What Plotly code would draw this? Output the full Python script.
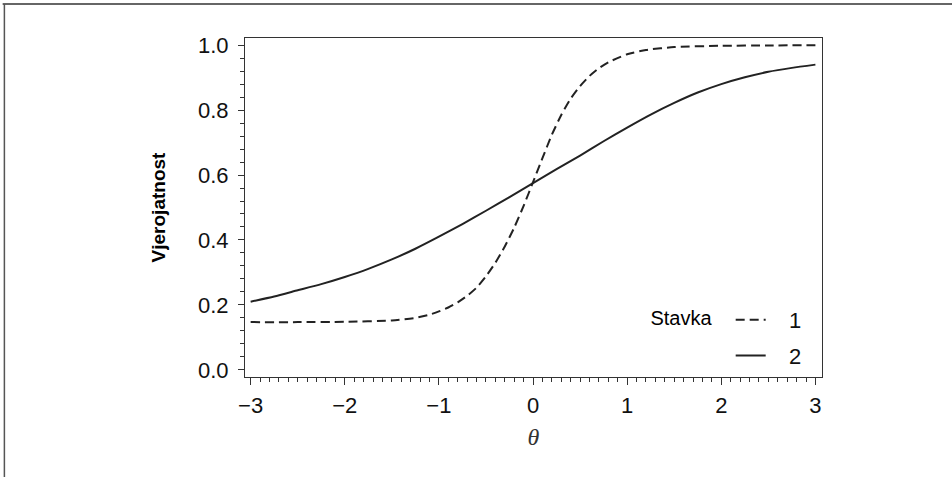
import plotly.graph_objects as go

# Data
theta_1 = [-3.0, -2.5, -2.0, -1.5, -1.25, -1.1, -1.0, -0.9, -0.8, -0.7, -0.6, -0.5, -0.4,
           -0.3, -0.2, -0.1, 0.0, 0.1, 0.2, 0.3, 0.4, 0.5, 0.6, 0.7, 0.8, 1.0, 1.2,
           1.5, 2.0, 2.5, 3.0]
p_item1 = [0.147, 0.147, 0.148, 0.152, 0.160, 0.170, 0.180, 0.192, 0.208, 0.228, 0.253, 0.288, 0.330,
           0.380, 0.438, 0.505, 0.578, 0.652, 0.724, 0.785, 0.835, 0.874, 0.905, 0.929, 0.947, 0.972, 0.985,
           0.994, 0.998, 0.999, 1.000]

theta_2 = [-3.0, -2.75, -2.5, -2.25, -2.0, -1.75, -1.5, -1.25, -1.0, -0.75, -0.5, -0.25,
           0.0, 0.25, 0.5, 0.75, 1.0, 1.25, 1.5, 1.75, 2.0, 2.25, 2.5, 2.75, 3.0]
p_item2 = [0.210, 0.226, 0.245, 0.264, 0.286, 0.311, 0.340, 0.373, 0.410, 0.449, 0.490, 0.532,
           0.575, 0.618, 0.660, 0.704, 0.746, 0.786, 0.822, 0.854, 0.880, 0.901, 0.918, 0.930, 0.940]

series_names = ["1", "2"]
legend_title = "Stavka"
x_ticks = [-3, -2, -1, 0, 1, 2, 3]
x_tick_labels = ["\u22123", "\u22122", "\u22121", "0", "1", "2", "3"]
y_ticks = [0.0, 0.2, 0.4, 0.6, 0.8, 1.0]
y_tick_labels = ["0.0", "0.2", "0.4", "0.6", "0.8", "1.0"]

FONT = "Liberation Sans, Arial, sans-serif"
NB = "\u00a0"

fig = go.Figure()
fig.add_trace(go.Scatter(x=theta_1, y=p_item1, mode="lines", name=NB * 3 + series_names[0],
                         legendgroup="a",
                         line=dict(color="#222", width=2, dash="9px,5px", shape="spline", smoothing=0.6)))
fig.add_trace(go.Scatter(x=theta_2, y=p_item2, mode="lines", name=NB * 3 + series_names[1],
                         legendgroup="b",
                         line=dict(color="#222", width=2, shape="spline", smoothing=0.6)))

axis_common = dict(showline=True, linecolor="#333", linewidth=1, mirror=True,
                   ticks="outside", tickcolor="#333", showgrid=False, zeroline=False,
                   tickfont=dict(family=FONT, size=22, color="#111"))

fig.update_xaxes(range=[-3.06, 3.07], tickvals=x_ticks, ticktext=x_tick_labels,
                 ticklen=7, tickwidth=1, ticklabelstandoff=2,
                 minor=dict(dtick=0.1, ticks="outside", ticklen=4, tickcolor="#333", showgrid=False),
                 title=dict(text="<i>\u03b8</i>", font=dict(family="Liberation Serif, serif", size=24, color="#333"),
                            standoff=10),
                 **axis_common)
fig.update_yaxes(range=[-0.022, 1.022], tickvals=y_ticks, ticktext=y_tick_labels,
                 ticklen=6, tickwidth=1, ticklabelstandoff=5,
                 minor=dict(dtick=0.04, tick0=0, ticks="outside", ticklen=4, tickcolor="#333", showgrid=False),
                 title=dict(text="<b>Vjerojatnost</b>", font=dict(family=FONT, size=19, color="#000"),
                            standoff=27),
                 **axis_common)

fig.update_layout(
    width=952, height=477,
    margin=dict(l=245, r=130, t=38, b=100),
    paper_bgcolor="white", plot_bgcolor="white",
    showlegend=True,
    legend=dict(title=dict(text=legend_title + NB * 2, side="left",
                           font=dict(family=FONT, size=20, color="#000")),
                font=dict(family=FONT, size=22, color="#111"),
                x=0.973, xanchor="right", y=0.0, yanchor="bottom",
                bgcolor="rgba(0,0,0,0)", tracegroupgap=4),
    shapes=[
        dict(type="line", xref="paper", yref="paper", x0=-0.42, x1=1.3, y0=1.10, y1=1.10,
             line=dict(color="#666", width=2)),
        dict(type="line", xref="paper", yref="paper", x0=-0.417, x1=-0.417, y0=1.10, y1=-0.30,
             line=dict(color="#555", width=1.5)),
    ],
)

fig.write_html("out.html")
